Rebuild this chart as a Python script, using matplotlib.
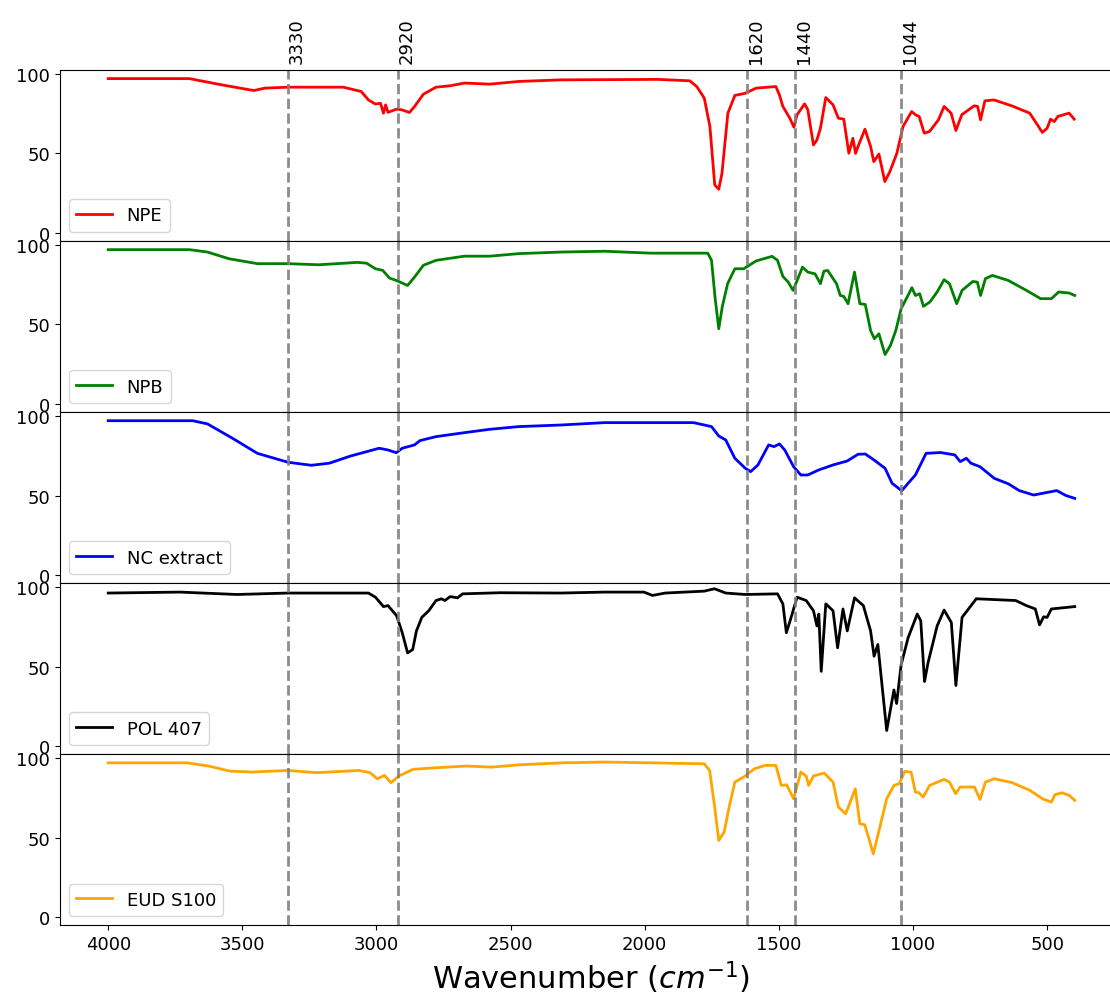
import matplotlib
matplotlib.use('Agg')
import matplotlib.pyplot as plt

# FTIR spectra (wavenumber, % transmittance)
npe_wn = [4000, 3698, 3578, 3457, 3417, 3330, 3124, 3057, 3030, 3004, 2985, 2974, 2966, 2957,
          2925, 2906, 2877, 2858, 2825, 2778, 2725, 2672, 2578, 2470, 2313, 1951, 1832, 1806,
          1778, 1757, 1739, 1724, 1712, 1690, 1664, 1625, 1585, 1511, 1498, 1485, 1459, 1444,
          1432, 1404, 1392, 1371, 1358, 1345, 1325, 1298, 1278, 1258, 1239, 1224, 1214, 1205,
          1179, 1158, 1146, 1127, 1105, 1086, 1060, 1037, 1005, 991, 977, 958, 938, 905, 884,
          858, 840, 818, 772, 759, 748, 732, 698, 632, 565, 532, 518, 500, 487, 473, 460, 418, 399]
npe_t = [97, 97, 93.1, 89.5, 91, 91.6, 91.6, 88.9, 83.6, 81, 81.5, 75.3, 80.5, 75.8,
         77.8, 77.4, 75.7, 79.5, 87.2, 91.6, 92.5, 94.2, 93.5, 95.2, 96.2, 96.5, 95.6, 92,
         84.7, 66.9, 30.2, 27.5, 37.5, 75.3, 86.4, 87.8, 91, 92, 86.8, 79.5, 72.1, 66.5,
         74.3, 81.1, 77.4, 55.3, 58.5, 65.8, 85.1, 80.5, 72.1, 71.5, 50.1, 59.5, 50, 54.3,
         65.2, 54.3, 44.8, 49.6, 32.3, 38.6, 50.1, 66.9, 76.3, 74.3, 73.2, 62.7, 63.8, 71.1, 79.5,
         75.3, 64.4, 74.3, 79.9, 79.5, 71.1, 83, 83.6, 79.9, 75.3, 66.9, 63.2, 65.8, 71.5, 70, 73.2, 75.3, 71.5]

npb_wn = [4000, 3698, 3630, 3550, 3444, 3330, 3216, 3071, 3037, 3004, 2977, 2951, 2925, 2884,
          2858, 2825, 2778, 2672, 2578, 2470, 2313, 2150, 1977, 1765, 1751, 1738, 1724, 1711,
          1691, 1664, 1631, 1585, 1525, 1505, 1485, 1465, 1447, 1432, 1412, 1392, 1365, 1345,
          1332, 1318, 1285, 1271, 1258, 1242, 1218, 1198, 1178, 1158, 1144, 1127, 1104, 1084,
          1064, 1044, 1004, 991, 975, 961, 937, 910, 884, 864, 837, 817, 777, 760, 748, 730,
          704, 644, 577, 524, 484, 457, 417, 397]
npb_t = [97, 97, 95.5, 91.3, 88.2, 88.2, 87.5, 89, 88.5, 85, 84, 79.1, 77.6, 74.5,
         79.8, 87.2, 90.3, 92.9, 92.9, 94.5, 95.5, 96, 94.8, 94.8, 90.3, 67.2, 47.3, 61,
         75.6, 85, 85, 89.9, 92.8, 90.3, 80.2, 76.6, 71.4, 77.6, 86, 82.9, 81.8, 75.6,
         83.5, 83.9, 75.6, 68.2, 67.6, 63, 82.9, 63, 62.6, 46.2, 41, 44.1, 31.1, 36.8,
         46.2, 59.9, 73.1, 68.2, 69.3, 61.4, 64.1, 70.4, 78.1, 75.6, 63, 71.4, 77, 76.6, 68.2, 78.8,
         80.8, 77.6, 71.4, 66.2, 66.2, 70.4, 69.7, 68.2]

nc_wn = [4000, 3685, 3630, 3537, 3444, 3330, 3243, 3176, 3097, 2990, 2957, 2926, 2904, 2858,
         2838, 2778, 2672, 2578, 2470, 2313, 2150, 1818, 1751, 1724, 1698, 1664, 1625, 1605,
         1578, 1538, 1518, 1498, 1478, 1445, 1418, 1392, 1352, 1298, 1245, 1205, 1178, 1145,
         1104, 1078, 1042, 1018, 991, 951, 897, 844, 824, 801, 784, 750, 697, 644, 604, 550,
         464, 430, 397]
nc_t = [97, 97, 95, 86, 76.5, 70.9, 69, 70.3, 74.8, 79.7, 78.6, 76.9, 79.7, 81.8,
        84.5, 87, 89.5, 91.6, 93.3, 94.3, 95.8, 95.8, 93.3, 87.4, 84.9, 73.4, 67.1, 65,
        69.2, 81.8, 80.7, 82.4, 78.6, 68.1, 62.9, 62.9, 66, 69.2, 71.7, 75.9, 76.1, 72.3,
        67.1, 57.7, 53, 57.7, 62.9, 76.5, 77, 75.5, 71.3, 73.4, 70.3, 68.1, 60.8, 57.3, 53.1, 50.3,
        53.1, 50, 48.2]

pol_wn = [4000, 3733, 3520, 3330, 3030, 3004, 2974, 2957, 2925, 2904, 2884, 2865, 2851, 2831,
          2805, 2778, 2758, 2745, 2725, 2698, 2679, 2539, 2313, 2150, 2003, 1971, 1924, 1778,
          1740, 1698, 1625, 1505, 1485, 1472, 1458, 1432, 1398, 1371, 1358, 1351, 1342, 1325,
          1298, 1281, 1261, 1245, 1218, 1185, 1158, 1145, 1131, 1098, 1071, 1061, 1044, 1018,
          984, 971, 957, 944, 910, 884, 857, 840, 817, 764, 670, 617, 577, 544, 528, 513,
          500, 484, 397]
pol_t = [96.2, 96.8, 95.3, 96.2, 96.2, 93.6, 87.7, 88.3, 82, 71.3, 58.6, 60.7, 72.4, 80.9,
         85.1, 91.5, 92.6, 91.5, 94, 93.2, 95.7, 96.4, 96.2, 96.8, 96.8, 94.7, 96.2, 97.4,
         98.9, 96.2, 95.3, 95.7, 89.4, 71.3, 78.8, 93.6, 91.5, 85.1, 75.5, 83, 47, 89.4,
         85.1, 61.8, 86.2, 72.4, 93.2, 88.3, 72.4, 56.5, 63.9, 9.8, 35.3, 26.8, 51.2, 68.2,
         83, 78.8, 40.6, 52.3, 75.5, 85.5, 77.7, 38.1, 80.9, 92.6, 91.9, 91.5, 88.3, 86.2, 76.2, 81.3,
         80.9, 86.2, 87.7]

eud_wn = [4000, 3706, 3626, 3546, 3466, 3330, 3223, 3064, 3024, 2997, 2970, 2946, 2917, 2864,
          2798, 2665, 2571, 2464, 2307, 2150, 1778, 1758, 1740, 1724, 1704, 1684, 1664, 1631,
          1591, 1551, 1511, 1491, 1471, 1445, 1418, 1398, 1389, 1371, 1331, 1298, 1278, 1251,
          1234, 1215, 1198, 1180, 1164, 1148, 1131, 1098, 1071, 1051, 1031, 1007, 991, 978,
          962, 938, 884, 864, 841, 824, 771, 750, 730, 697, 630, 564, 517, 484, 471, 444,
          417, 397]
eud_t = [97, 97, 95, 91.8, 91.2, 92.2, 90.8, 92.2, 90.8, 87, 89.1, 84.5, 88.7, 92.9,
         93.7, 95, 94.3, 95.8, 97, 97.5, 96.4, 92.2, 70.2, 48.2, 53.5, 70.2, 84.9, 88.1,
         93.3, 95.4, 95.4, 82.8, 83.2, 74.4, 91.2, 88.7, 82.8, 88.7, 90.6, 84.9, 69.2, 65,
         72.3, 80.7, 58.7, 58.1, 49.3, 39.8, 51.4, 74.4, 82.8, 83.9, 91.6, 91.2, 78.6, 78.2,
         75.5, 82.8, 86.6, 84.9, 77.6, 81.8, 81.8, 74, 84.9, 87, 84.5, 79.7, 74.4, 72.3, 77, 78.2,
         76.5, 73.4]

labels = ['NPE', 'NPB', 'NC extract', 'POL 407', 'EUD S100']
colors = ['red', 'green', 'blue', 'black', 'orange']
spectra = [(npe_wn, npe_t), (npb_wn, npb_t), (nc_wn, nc_t), (pol_wn, pol_t), (eud_wn, eud_t)]

# characteristic bands marked with dashed lines
bands = [3330, 2920, 1620, 1440, 1044]

plt.rcParams['font.size'] = 13

fig, axes = plt.subplots(5, 1, sharex=True, figsize=(11.1, 10.04), dpi=100)
fig.subplots_adjust(left=0.054, right=1.011, top=0.9296, bottom=0.0777, hspace=0)

for ax, (wn, t), lab, c in zip(axes, spectra, labels, colors):
    ax.plot(wn, t, color=c, lw=2, label=lab)
    for b in bands:
        ax.axvline(b, color='gray', ls='--', lw=2, alpha=0.9)
    ax.set_ylim(-4.9, 102.6)
    ax.set_yticks([0, 50, 100])
    ax.legend(loc='lower left', fontsize=13)

# no x ticks between the stacked panels
for ax in axes[:-1]:
    ax.tick_params(axis='x', length=0)

for b in bands:
    axes[0].text(b, 107, str(b), rotation=90, ha='left', va='bottom', fontsize=13)

axes[-1].set_xlim(4180, 220)
axes[-1].set_xlabel('Wavenumber ($cm^{-1}$)', fontsize=22)

plt.savefig('out.png', dpi=100)
